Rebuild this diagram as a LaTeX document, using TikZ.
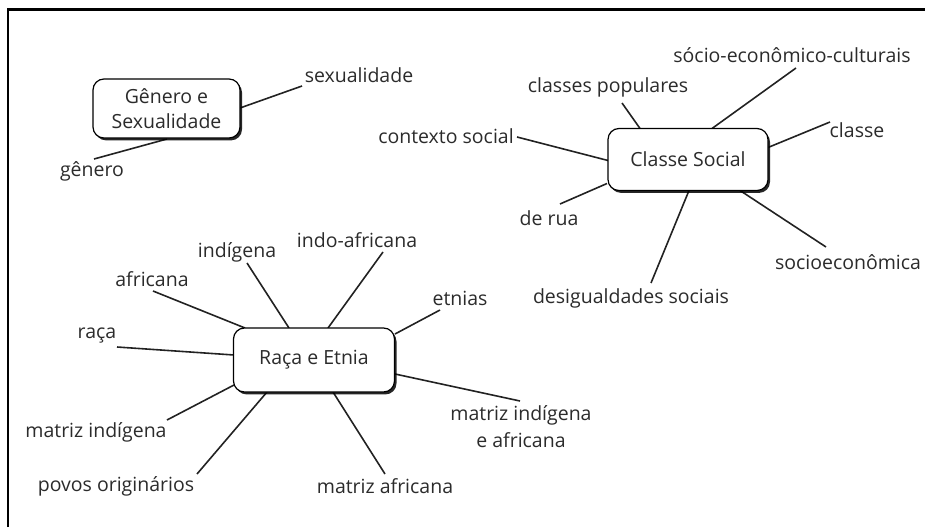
\documentclass[tikz,border=0pt]{standalone}
\usepackage{fontspec}
\setmainfont{Open Sans}
\usetikzlibrary{shadows,backgrounds}
\definecolor{txt}{HTML}{2b2b2b}
\definecolor{ln}{HTML}{222222}
\begin{document}
\begin{tikzpicture}[x=1pt,y=-1pt,
  lbl/.style={inner sep=0pt, text=txt, font=\fontsize{19.5}{27}\selectfont, align=center},
  topic/.style={draw=black, line width=1.2pt, fill=white, rounded corners=11pt, text=txt,
    font=\fontsize{19.5}{25}\selectfont, align=center, inner sep=0pt,
    drop shadow={shadow xshift=2pt, shadow yshift=-2.4pt, fill=black, opacity=0.85}},
  conn/.style={draw=ln, line width=1.6pt}]
\useasboundingbox (0,0) rectangle (925,527);
\draw[line width=2.6pt] (8,527) -- (8,9.3) -- (925,9.3);

% topics
\node[topic, minimum width=147pt, minimum height=59pt] (GS) at (166.5,108.5) {Gênero e\\Sexualidade};
\node[topic, minimum width=160pt, minimum height=62pt] (CS) at (688,159.5) {Classe Social};
\node[topic, minimum width=161pt, minimum height=64pt] (RE) at (314,360) {Raça e Etnia};

% labels
\node[lbl] (sx) at (359,75) {sexualidade};
\node[lbl] (gn) at (92,171) {gênero};

\node[lbl] (sec) at (792,55) {sócio-econômico-culturais};
\node[lbl] (cp) at (608,87) {classes populares};
\node[lbl] (cl) at (857,130) {classe};
\node[lbl] (ctx) at (446,136) {contexto social};
\node[lbl] (dr) at (549,218) {de rua};
\node[lbl] (ds) at (631,298) {desigualdades sociais};
\node[lbl] (se) at (848,262) {socioeconômica};

\node[lbl] (af) at (152,279) {africana};
\node[lbl] (ind) at (237,252) {indígena};
\node[lbl] (ia) at (357,240) {indo-africana};
\node[lbl] (et) at (460,298) {etnias};
\node[lbl] (rc) at (97,336) {raça};
\node[lbl] (mi) at (96,432) {matriz indígena};
\node[lbl] (po) at (116,486) {povos originários};
\node[lbl] (ma) at (385,486) {matriz africana};
\node[lbl] (mia) at (521,427) {matriz indígena\\e africana};

\begin{scope}[on background layer]
\draw[conn] ([shift={(73.5,-0.5)}]GS.center) -- ([shift={(-57,11)}]sx.center);
\draw[conn] ([shift={(0.5,30.5)}]GS.center) -- ([shift={(2,-12)}]gn.center);

\draw[conn] ([shift={(24,-31)}]CS.center) -- ([shift={(4,13)}]sec.center);
\draw[conn] ([shift={(-48,-31)}]CS.center) -- ([shift={(14,16)}]cp.center);
\draw[conn] ([shift={(80,-12)}]CS.center) -- ([shift={(-27,-8)}]cl.center);
\draw[conn] ([shift={(-80,1)}]CS.center) -- ([shift={(71,1)}]ctx.center);
\draw[conn] ([shift={(-81,24)}]CS.center) -- ([shift={(11,-14)}]dr.center);
\draw[conn] ([shift={(1,31)}]CS.center) -- ([shift={(20,-15)}]ds.center);
\draw[conn] ([shift={(52,31)}]CS.center) -- ([shift={(-22,-15)}]se.center);

\draw[conn] ([shift={(-69,-32)}]RE.center) -- ([shift={(1,12)}]af.center);
\draw[conn] ([shift={(-25,-32)}]RE.center) -- ([shift={(10,11)}]ind.center);
\draw[conn] ([shift={(14,-32)}]RE.center) -- ([shift={(26,12)}]ia.center);
\draw[conn] ([shift={(81,-26)}]RE.center) -- ([shift={(-20,12)}]et.center);
\draw[conn] ([shift={(-80,-5)}]RE.center) -- ([shift={(20,11)}]rc.center);
\draw[conn] ([shift={(-80,25)}]RE.center) -- ([shift={(71,-12)}]mi.center);
\draw[conn] ([shift={(-47,32)}]RE.center) -- ([shift={(81,-12)}]po.center);
\draw[conn] ([shift={(19,32)}]RE.center) -- ([shift={(0,-12)}]ma.center);
\draw[conn] ([shift={(81,14)}]RE.center) -- ([shift={(-1,-26)}]mia.center);
\end{scope}
\end{tikzpicture}
\end{document}
